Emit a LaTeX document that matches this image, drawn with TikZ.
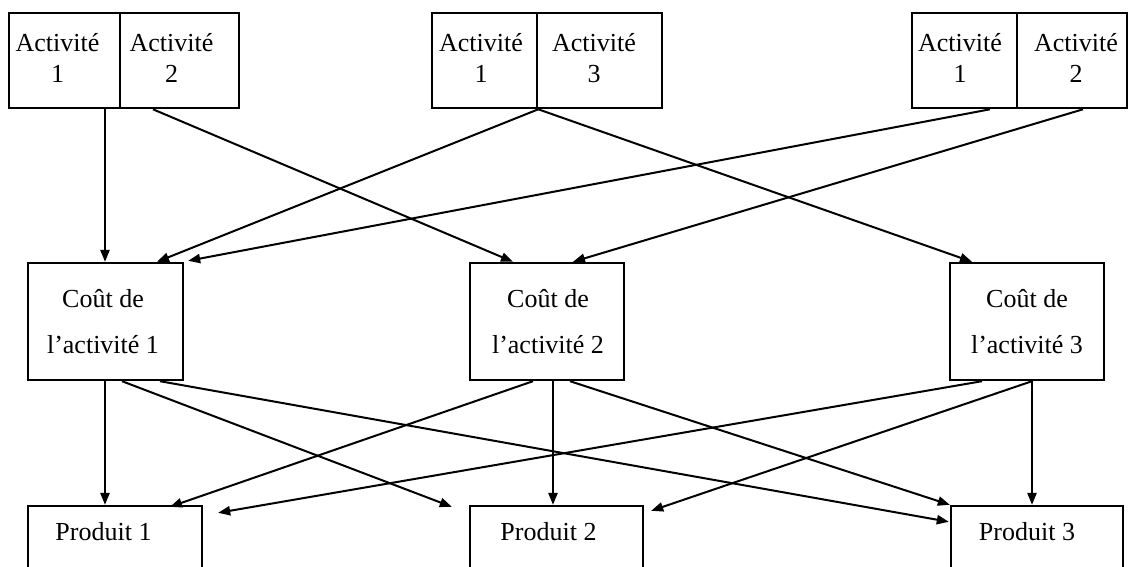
\documentclass[tikz,border=0pt]{standalone}
\usepackage{fontspec}
\setmainfont{Liberation Serif}
\usetikzlibrary{calc,arrows.meta}
\begin{document}
\begin{tikzpicture}[x=0.5pt,y=-0.5pt,
  cell/.style={draw,line width=1.3pt,inner sep=0pt,minimum height=47.5pt},
  midbox/.style={draw,line width=1.2pt,inner sep=0pt,minimum height=58.5pt,minimum width=77pt},
  prodbox/.style={draw,line width=1.2pt,inner sep=0pt,minimum height=57pt},
  txt/.style={inner sep=0pt,anchor=base,align=center,font=\fontsize{13}{15.5}\selectfont},
  txtm/.style={inner sep=0pt,anchor=base,align=center,font=\fontsize{13}{23}\selectfont},
  arr/.style={line width=1pt,-{Triangle[length=6pt,width=4.6pt]}}]
\useasboundingbox (0,0) rectangle (1131,567);
\clip (0,0) rectangle (1131,567);
% top boxes
\node[cell,minimum width=55.5pt] (T1a) at (64.5,60.5) {};
\node[cell,minimum width=59.5pt] (T1b) at (179.5,60.5) {};
\node[cell,minimum width=52.5pt] (T2a) at (484.5,60.5) {};
\node[cell,minimum width=62.5pt] (T2b) at (599.5,60.5) {};
\node[cell,minimum width=52.5pt] (T3a) at (964.5,60.5) {};
\node[cell,minimum width=55pt] (T3b) at (1072,60.5) {};
\node[txt] (L1a) at (57.5,83) {Activité\\1};
\node[txt] (L1b) at (171.5,83) {Activité\\2};
\node[txt] (L2a) at (481,83) {Activité\\1};
\node[txt] (L2b) at (594,83) {Activité\\3};
\node[txt] (L3a) at (960,83) {Activité\\1};
\node[txt] (L3b) at (1076,83) {Activité\\2};
% middle boxes
\node[midbox,minimum width=77.5pt] (C1) at (105.5,321.5) {};
\node[midbox] (C2) at (547,321.5) {};
\node[midbox] (C3) at (1027,321.5) {};
\node[txtm] (M1) at (103,353) {Coût de\\l’activité 1};
\node[txtm] (M2) at (548,353) {Coût de\\l’activité 2};
\node[txtm] (M3) at (1027,353) {Coût de\\l’activité 3};
% bottom boxes
\node[prodbox,minimum width=87pt] (P1) at (115,563) {};
\node[prodbox,minimum width=86.5pt] (P2) at (556.5,563) {};
\node[prodbox,minimum width=86pt] (P3) at (1037,563) {};
\node[txt] (B1) at (103.5,540) {Produit 1};
\node[txt] (B2) at (548.5,540) {Produit 2};
\node[txt] (B3) at (1027,540) {Produit 3};
% start points
\coordinate (s1) at ($(C1.south)+(-0.5,0)$);
\coordinate (s2) at ($(C2.south)+(6,0)$);
\coordinate (s3) at ($(C3.south)+(5,0)$);
% arrows top -> middle
\draw[arr] (T1a.south -| s1) -- (s1 |- C1.north);
\draw[arr] ($(T1b.south)+(-26.5,0)$) -- ($(C2.north)+(-34,0)$);
\draw[arr] (T2a.south east) -- ($(C1.north)+(51.5,0)$);
\draw[arr] (T2a.south east) -- ($(C3.north)+(-55,0)$);
\draw[arr] ($(T3a.south)+(25.5,0)$) -- ($(C1.north east)+(4,-1)$);
\draw[arr] ($(T3b.south)+(11,0)$) -- ($(C2.north)+(26,0)$);
% arrows middle -> bottom
\draw[arr] (s1) -- (s1 |- P1.north);
\draw[arr] ($(C1.south)+(16.5,0)$) -- ($(P2.north west)+(-17,2)$);
\draw[arr] ($(C1.south)+(54.5,0)$) -- ($(P3.north west)+(-1,17)$);
\draw[arr] ($(C2.south)+(-14,0)$) -- ($(P1.north)+(55,2)$);
\draw[arr] (s2) -- (s2 |- P2.north);
\draw[arr] ($(C2.south)+(23,0)$) -- (P3.north west);
\draw[arr] ($(C3.south)+(-45,0)$) -- ($(P1.north east)+(15,8)$);
\draw[arr] (s3) -- ($(P2.north east)+(7,6)$);
\draw[arr] (s3) -- (s3 |- P3.north);
\end{tikzpicture}
\end{document}
